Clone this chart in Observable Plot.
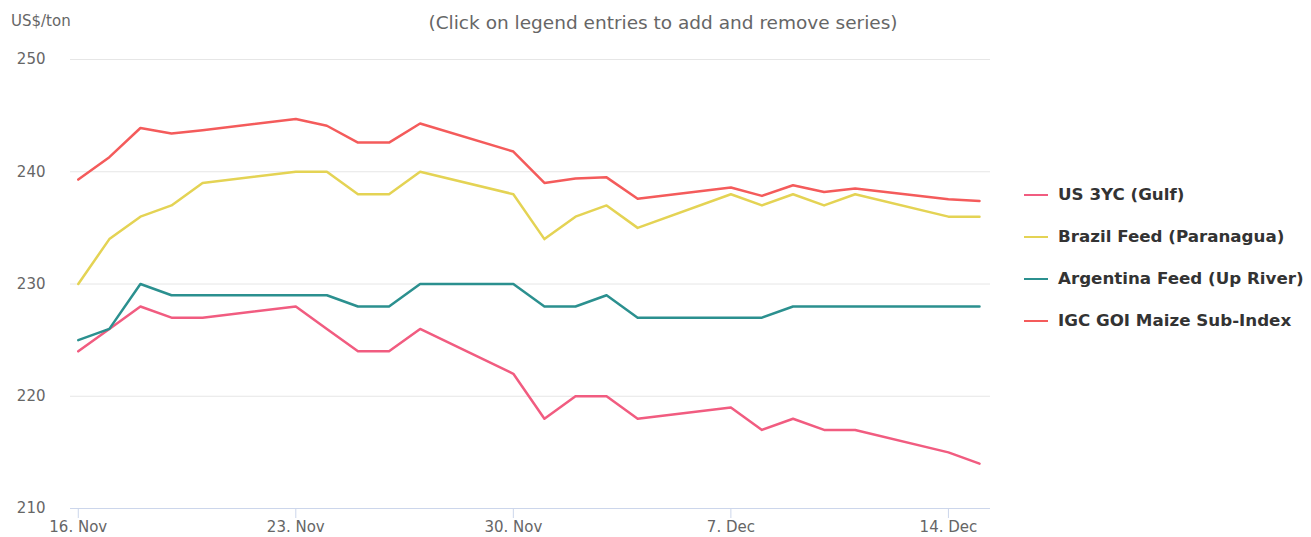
<!DOCTYPE html>
<html>
<head>
<meta charset="utf-8">
<script src="https://cdn.jsdelivr.net/npm/d3@7"></script>
<script src="https://cdn.jsdelivr.net/npm/@observablehq/plot@0.6"></script>
<style>
  html, body { margin: 0; padding: 0; background: #fff; }
  #wrap { position: relative; width: 1311px; height: 537px; font-family: "DejaVu Sans", sans-serif; }
  .unit { position: absolute; left: 11px; top: 12px; font-size: 15px; color: #666; }
  .sub { position: absolute; left: 0; width: 1326px; top: 12px; text-align: center; font-size: 18.5px; color: #666; }
  .legend { position: absolute; left: 1024px; top: 182px; }
  .item { position: relative; height: 42px; display: flex; align-items: flex-start; }
  .sym { width: 24px; height: 2px; margin-top: 12px; margin-right: 10px; }
  .lab { font-weight: bold; font-size: 16.7px; color: #333; line-height: 24px; white-space: nowrap; }
  svg text { font-family: "DejaVu Sans", sans-serif; }
</style>
</head>
<body>
<div id="wrap"></div>
<script>
// ---- data ----
const dates = [
  "2020-11-16","2020-11-17","2020-11-18","2020-11-19","2020-11-20",
  "2020-11-23","2020-11-24","2020-11-25","2020-11-26","2020-11-27",
  "2020-11-30","2020-12-01","2020-12-02","2020-12-03","2020-12-04",
  "2020-12-07","2020-12-08","2020-12-09","2020-12-10","2020-12-11",
  "2020-12-14","2020-12-15"
];
const seriesNames = ["US 3YC (Gulf)", "Brazil Feed (Paranagua)", "Argentina Feed (Up River)", "IGC GOI Maize Sub-Index"];
const seriesColors = ["#f15c80", "#e4d354", "#2b908f", "#f45b5b"];
const us3yc     = [224,226,228,227,227, 228,226,224,224,226, 222,218,220,220,218, 219,217,218,217,217, 215,214];
const brazil    = [230,234,236,237,239, 240,240,238,238,240, 238,234,236,237,235, 238,237,238,237,238, 236,236];
const argentina = [225,226,230,229,229, 229,229,228,228,230, 230,228,228,229,227, 227,227,228,228,228, 228,228];
const igc       = [239.3,241.3,243.9,243.4,243.7, 244.7,244.1,242.6,242.6,244.3, 241.8,239.0,239.4,239.5,237.6, 238.6,237.85,238.8,238.2,238.5, 237.55,237.4];
const yTicks = [210, 220, 230, 240, 250];
const xTickDates = ["2020-11-16","2020-11-23","2020-11-30","2020-12-07","2020-12-14"];
const xDomain = ["2020-11-15T18:00Z", "2020-12-15T08:30Z"];
const unitLabel = "US$/ton";
const subtitle = "(Click on legend entries to add and remove series)";

// ---- build ----
const allValues = [us3yc, brazil, argentina, igc];
const rows = [];
seriesNames.forEach((name, i) => {
  dates.forEach((d, j) => rows.push({series: name, date: new Date(d + "T00:00Z"), value: allValues[i][j]}));
});
const months = ["Jan","Feb","Mar","Apr","May","Jun","Jul","Aug","Sep","Oct","Nov","Dec"];
const fmt = d => `${d.getUTCDate()}. ${months[d.getUTCMonth()]}`;

const chart = Plot.plot({
  width: 1311,
  height: 537,
  marginLeft: 70,
  marginRight: 321,
  marginTop: 59,
  marginBottom: 29,
  x: { type: "utc", domain: xDomain.map(s => new Date(s)) },
  y: { domain: [210, 250] },
  color: { domain: seriesNames, range: seriesColors },
  marks: [
    Plot.gridY(yTicks, { stroke: "#e6e6e6", strokeOpacity: 1 }),
    Plot.axisY(yTicks, { tickSize: 0, tickPadding: 25, fontSize: 15, fill: "#666", label: null }),
    Plot.ruleY([210], { stroke: "#ccd6eb" }),
    Plot.axisX(xTickDates.map(s => new Date(s + "T00:00Z")), {
      tickFormat: fmt, tickSize: 10, stroke: "#ccd6eb", tickPadding: 3, fontSize: 15, fill: "#666", label: null
    }),
    Plot.line(rows, { x: "date", y: "value", z: "series", stroke: "series", strokeWidth: 2.5 })
  ]
});

const wrap = document.getElementById("wrap");
wrap.appendChild(chart);
const u = document.createElement("div"); u.className = "unit"; u.textContent = unitLabel; wrap.appendChild(u);
const s = document.createElement("div"); s.className = "sub"; s.textContent = subtitle; wrap.appendChild(s);
const lg = document.createElement("div"); lg.className = "legend";
seriesNames.forEach((n, i) => {
  const it = document.createElement("div"); it.className = "item";
  const sy = document.createElement("div"); sy.className = "sym"; sy.style.background = seriesColors[i];
  const lb = document.createElement("div"); lb.className = "lab"; lb.textContent = n;
  it.appendChild(sy); it.appendChild(lb); lg.appendChild(it);
});
wrap.appendChild(lg);
chart.style.position = "absolute"; chart.style.left = "0"; chart.style.top = "0";
</script>
</body>
</html>
